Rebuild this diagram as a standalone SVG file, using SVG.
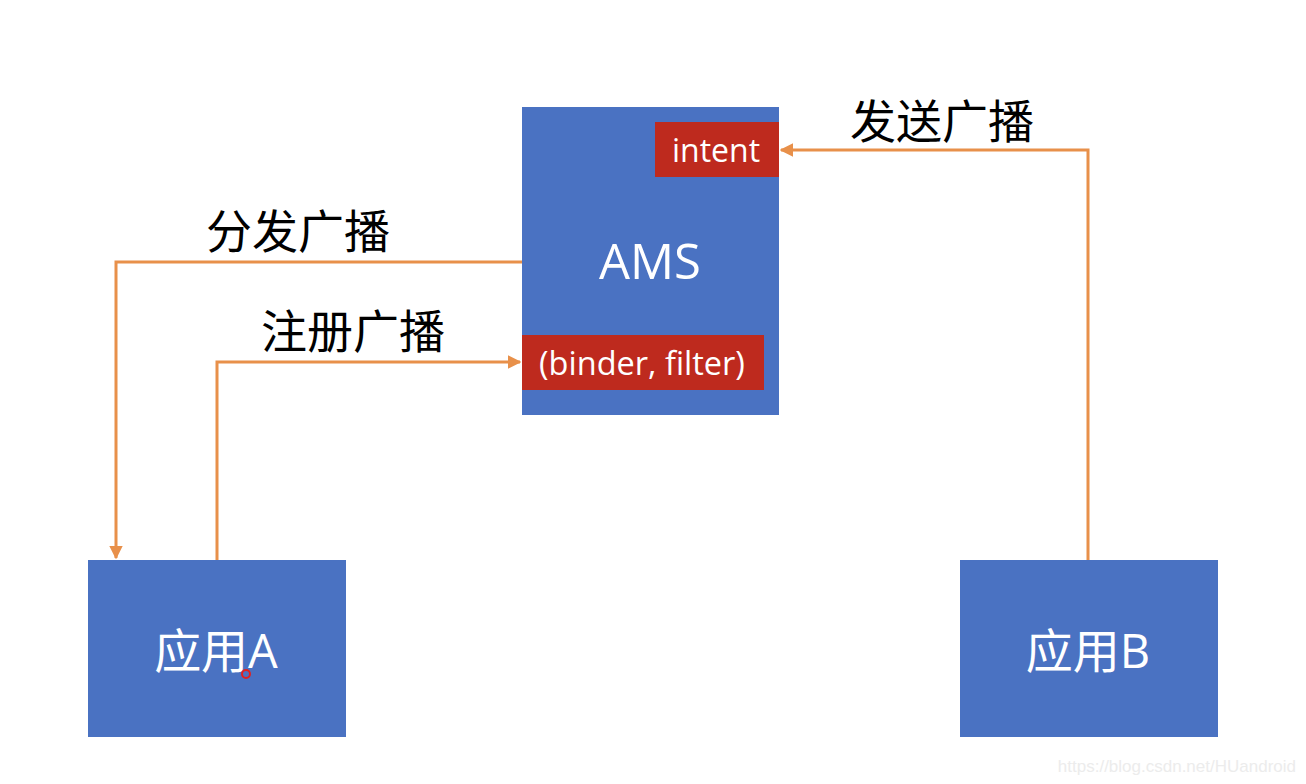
<svg xmlns="http://www.w3.org/2000/svg" width="1306" height="784" viewBox="0 0 1306 784">
<defs>
<style>
.box{fill:#4A72C2}
.tag{fill:#BE2A1E}
.w{fill:#fff;font-family:"Open Sans","Noto Sans","Noto Sans CJK SC",sans-serif;text-anchor:middle}
.lbl{fill:#000;font-family:"Noto Sans CJK SC",sans-serif;font-size:46px;text-anchor:middle}
.con{fill:none;stroke:#E8904A;stroke-width:3}
</style>
<marker id="arr" viewBox="0 0 10 10" refX="9" refY="5" markerWidth="4.5" markerHeight="4.5" orient="auto" markerUnits="strokeWidth">
<path d="M0,0 L10,5 L0,10 z" fill="#E8904A"/>
</marker>
</defs>
<rect width="1306" height="784" fill="#fff"/>
<g id="ams">
<rect class="box" x="522" y="107" width="257" height="308"/>
<text class="w" x="650" y="279" font-size="49">AMS</text>
</g>
<g id="intent">
<rect class="tag" x="655" y="122" width="124" height="55"/>
<text class="w" x="716" y="162" font-size="32">intent</text>
</g>
<g id="binder">
<rect class="tag" x="522" y="335" width="242" height="55"/>
<text class="w" x="642" y="375" font-size="32.5">(binder, filter)</text>
</g>
<g id="appA">
<rect class="box" x="88" y="560" width="258" height="177"/>
<text class="w" x="216" y="668" font-size="47">应用A</text>
</g>
<g id="appB">
<rect class="box" x="960" y="560" width="258" height="177"/>
<text class="w" x="1088" y="668" font-size="47">应用B</text>
</g>
<g id="connectors">
<path class="con" d="M522,262 H116 V558" marker-end="url(#arr)"/>
<path class="con" d="M217,560 V362 H520" marker-end="url(#arr)"/>
<path class="con" d="M1088,560 V150 H781" marker-end="url(#arr)"/>
</g>
<g id="labels">
<text class="lbl" x="942" y="138">发送广播</text>
<text class="lbl" x="298" y="248">分发广播</text>
<text class="lbl" x="353" y="348">注册广播</text>
</g>
<circle cx="246" cy="674" r="4" fill="none" stroke="#E02020" stroke-width="2"/>
<text x="1296" y="772" font-family="Liberation Sans, sans-serif" font-size="17" fill="#ECECEC" text-anchor="end">https://blog.csdn.net/HUandroid</text>
</svg>
